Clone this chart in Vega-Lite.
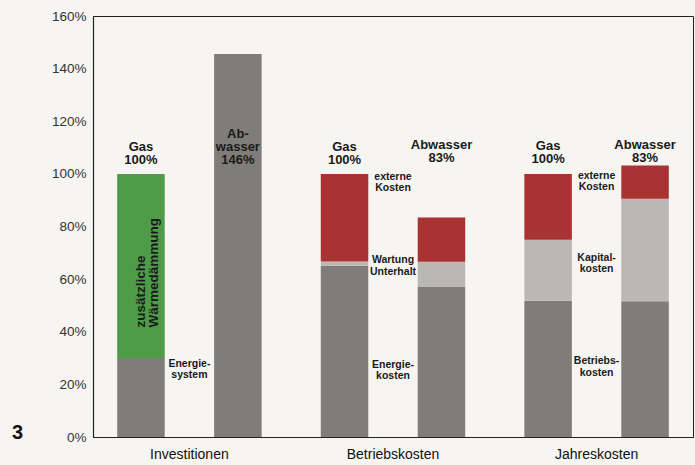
{
  "$schema": "https://vega.github.io/schema/vega-lite/v6.json",
  "width": 600,
  "height": 421,
  "autosize": "none",
  "padding": {"left": 93, "top": 16, "right": 2, "bottom": 28},
  "background": "#f6f5f1",
  "config": {
    "font": "Liberation Sans",
    "view": {"stroke": "#222", "strokeWidth": 1}
  },
  "datasets": {
    "bars": [
      {"group": "Investitionen", "fuel": "Gas", "part": "Energiesystem", "kind": "dark", "value": 30, "ord": 1},
      {"group": "Investitionen", "fuel": "Gas", "part": "zusätzliche Wärmedämmung", "kind": "green", "value": 70, "ord": 2},
      {"group": "Investitionen", "fuel": "Abwasser", "part": "Energiesystem", "kind": "dark", "value": 145.6, "ord": 1},
      {"group": "Betriebskosten", "fuel": "Gas", "part": "Energiekosten", "kind": "dark", "value": 65.1, "ord": 1},
      {"group": "Betriebskosten", "fuel": "Gas", "part": "Wartung Unterhalt", "kind": "light", "value": 1.6, "ord": 2},
      {"group": "Betriebskosten", "fuel": "Gas", "part": "externe Kosten", "kind": "red", "value": 33.3, "ord": 3},
      {"group": "Betriebskosten", "fuel": "Abwasser", "part": "Energiekosten", "kind": "dark", "value": 57.2, "ord": 1},
      {"group": "Betriebskosten", "fuel": "Abwasser", "part": "Wartung Unterhalt", "kind": "light", "value": 9.4, "ord": 2},
      {"group": "Betriebskosten", "fuel": "Abwasser", "part": "externe Kosten", "kind": "red", "value": 16.8, "ord": 3},
      {"group": "Jahreskosten", "fuel": "Gas", "part": "Betriebskosten", "kind": "dark", "value": 51.8, "ord": 1},
      {"group": "Jahreskosten", "fuel": "Gas", "part": "Kapitalkosten", "kind": "light", "value": 23.2, "ord": 2},
      {"group": "Jahreskosten", "fuel": "Gas", "part": "externe Kosten", "kind": "red", "value": 25, "ord": 3},
      {"group": "Jahreskosten", "fuel": "Abwasser", "part": "Betriebskosten", "kind": "dark", "value": 51.6, "ord": 1},
      {"group": "Jahreskosten", "fuel": "Abwasser", "part": "Kapitalkosten", "kind": "light", "value": 38.9, "ord": 2},
      {"group": "Jahreskosten", "fuel": "Abwasser", "part": "externe Kosten", "kind": "red", "value": 12.7, "ord": 3}
    ],
    "toplabels": [
      {"group": "Investitionen", "fuel": "Gas", "pos": 110.4, "text": "Gas\n100%"},
      {"group": "Investitionen", "fuel": "Abwasser", "pos": 115, "text": "Ab-\nwasser\n146%"},
      {"group": "Betriebskosten", "fuel": "Gas", "pos": 110.4, "text": "Gas\n100%"},
      {"group": "Betriebskosten", "fuel": "Abwasser", "pos": 111, "text": "Abwasser\n83%"},
      {"group": "Jahreskosten", "fuel": "Gas", "pos": 110.6, "text": "Gas\n100%"},
      {"group": "Jahreskosten", "fuel": "Abwasser", "pos": 111, "text": "Abwasser\n83%"}
    ],
    "sidelabels": [
      {"group": "Investitionen", "pos": 27.9, "text": "Energie-\nsystem"},
      {"group": "Betriebskosten", "pos": 98.9, "text": "externe\nKosten"},
      {"group": "Betriebskosten", "pos": 67.1, "text": "Wartung\nUnterhalt"},
      {"group": "Betriebskosten", "pos": 27.5, "text": "Energie-\nkosten"},
      {"group": "Jahreskosten", "pos": 99.3, "text": "externe\nKosten"},
      {"group": "Jahreskosten", "pos": 68.1, "text": "Kapital-\nkosten"},
      {"group": "Jahreskosten", "pos": 28.8, "text": "Betriebs-\nkosten"}
    ],
    "inlabels": [
      {"group": "Investitionen", "fuel": "Gas", "pos": 41.6, "text": "zusätzliche\nWärmedämmung"}
    ]
  },
  "encoding": {
    "x": {
      "field": "group",
      "type": "nominal",
      "sort": ["Investitionen", "Betriebskosten", "Jahreskosten"],
      "scale": {"domain": ["Investitionen", "Betriebskosten", "Jahreskosten"], "paddingInner": 0.1, "paddingOuter": 0.0236},
      "axis": {
        "title": null,
        "labelAngle": 0,
        "ticks": false,
        "labelPadding": 10,
        "labelFontSize": 14,
        "labelColor": "#111",
        "domainColor": "#222",
        "domainWidth": 1.2
      }
    }
  },
  "layer": [
    {
      "data": {"name": "bars"},
      "mark": {"type": "bar"},
      "encoding": {
        "xOffset": {
          "field": "fuel",
          "type": "nominal",
          "scale": {"domain": ["Gas", "Abwasser"], "paddingInner": 0.51, "paddingOuter": 0.2}
        },
        "y": {
          "field": "value",
          "type": "quantitative",
          "stack": "zero",
          "scale": {"domain": [0, 160], "nice": false},
          "axis": {
            "values": [0, 20, 40, 60, 80, 100, 120, 140, 160],
            "labelExpr": "datum.value + '%'",
            "grid": false,
            "ticks": false,
            "labelPadding": 7,
            "labelFontSize": 13.5,
            "labelColor": "#333",
            "domainColor": "#222",
            "domainWidth": 1.2,
            "title": "3",
            "titleAngle": 0,
            "titleFontSize": 20,
            "titleFontWeight": "bold",
            "titleColor": "#111",
            "titleX": -76,
            "titleY": 416,
            "titleAlign": "center",
            "titleBaseline": "middle"
          }
        },
        "order": {"field": "ord", "type": "quantitative"},
        "color": {
          "field": "kind",
          "type": "nominal",
          "scale": {"domain": ["dark", "light", "red", "green"], "range": ["#7f7d7a", "#bab8b5", "#a93232", "#4e9c47"]},
          "legend": null
        }
      }
    },
    {
      "data": {"name": "toplabels"},
      "mark": {"type": "text", "fontSize": 13, "fontWeight": "bold", "color": "#1a1a1a", "lineBreak": "\n", "lineHeight": 13, "baseline": "middle", "align": "center"},
      "encoding": {
        "xOffset": {
          "field": "fuel",
          "type": "nominal",
          "scale": {"domain": ["Gas", "Abwasser"], "paddingInner": 0.51, "paddingOuter": 0.2}
        },
        "y": {"field": "pos", "type": "quantitative"},
        "text": {"field": "text"}
      }
    },
    {
      "data": {"name": "sidelabels"},
      "mark": {"type": "text", "fontSize": 10.5, "fontWeight": "bold", "color": "#1a1a1a", "lineBreak": "\n", "lineHeight": 11.5, "baseline": "middle", "align": "center"},
      "encoding": {
        "y": {"field": "pos", "type": "quantitative"},
        "text": {"field": "text"}
      }
    },
    {
      "data": {"name": "inlabels"},
      "mark": {"type": "text", "fontSize": 13.5, "fontWeight": "bold", "color": "#1a1a1a", "lineBreak": "\n", "lineHeight": 13, "baseline": "middle", "align": "left", "angle": 270},
      "encoding": {
        "xOffset": {
          "field": "fuel",
          "type": "nominal",
          "scale": {"domain": ["Gas", "Abwasser"], "paddingInner": 0.51, "paddingOuter": 0.2}
        },
        "y": {"field": "pos", "type": "quantitative"},
        "text": {"field": "text"}
      }
    }
  ]
}
